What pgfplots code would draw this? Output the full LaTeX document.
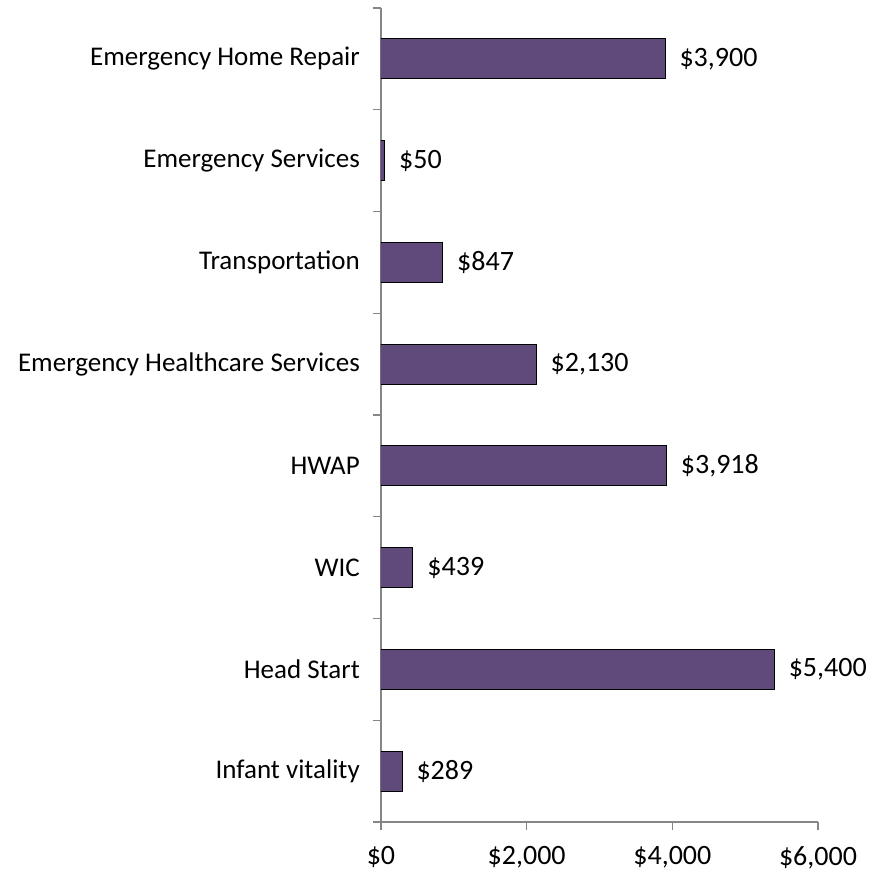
\documentclass[border=0pt]{standalone}
\usepackage{pgfplots}
\pgfplotsset{compat=1.18}
\usepackage{fontspec}
\setmainfont{Carlito}

\definecolor{barpurple}{RGB}{96,74,123}
\definecolor{axgrey}{RGB}{134,134,134}

\pgfplotstableread{
pos val lab
1 289  \$289
2 5400 \$5,400
3 439  \$439
4 3918 \$3,918
5 2130 \$2,130
6 847  \$847
7 50   \$50
8 3900 \$3,900
}\costs

\begin{document}
\begin{tikzpicture}
\begin{axis}[
    name=ax,
    scale only axis,
    width=437pt, height=814pt,
    xmin=0, xmax=6000,
    ymin=0.5, ymax=8.5,
    xbar, bar width=40pt,
    axis x line*=bottom, axis y line*=left,
    axis line style={axgrey, line width=1.2pt, -},
    tick style={axgrey, line width=1.2pt},
    tick align=outside,
    major tick length=8pt,
    xtick={0,2000,4000,6000},
    xticklabels={{\$0},{\$2,000},{\$4,000},{\$6,000}},
    ytick={0.5,1.5,...,8.5},
    yticklabels={},
    extra y ticks={1,2,3,4,5,6,7,8},
    extra y tick labels={Infant vitality,Head Start,WIC,HWAP,Emergency Healthcare Services,Transportation,Emergency Services,Emergency Home Repair},
    extra y tick style={major tick length=0pt,
        yticklabel style={anchor=east, inner sep=0pt, xshift=-21pt}},
    ticklabel style={font=\fontsize{27}{32}\selectfont, black},
    xticklabel style={anchor=north, inner sep=0pt, yshift=-16pt,
        font=\fontsize{28}{33}\selectfont},
]
\addplot[fill=barpurple, draw=black, line width=1pt,
    nodes near coords, point meta=explicit symbolic,
    nodes near coords style={anchor=west, inner sep=0pt, xshift=14pt,
        font=\fontsize{28}{33}\selectfont, black}]
    table[x=val, y=pos, meta=lab] {\costs};
\end{axis}
\pgfresetboundingbox
\path[use as bounding box] ([xshift=-381pt,yshift=-51pt]ax.south west) rectangle ([xshift=70pt,yshift=8pt]ax.north east);
\end{tikzpicture}
\end{document}
